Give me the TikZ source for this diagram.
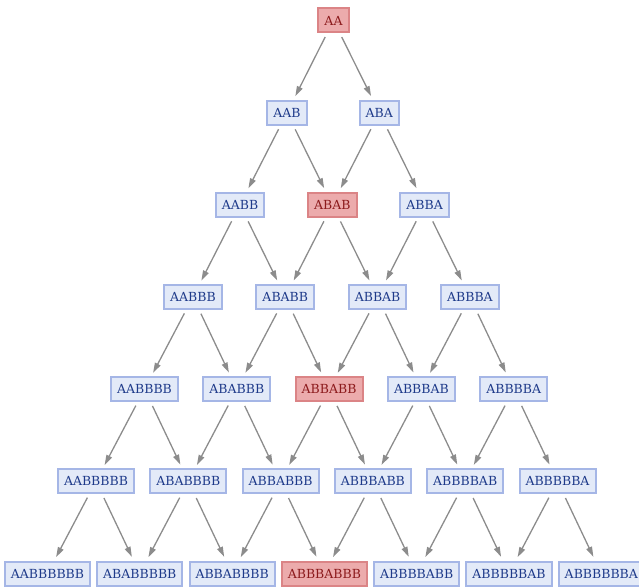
\documentclass[tikz,border=0pt]{standalone}
\usepackage{fontspec}
\setmainfont{DejaVu Serif}
\usetikzlibrary{arrows.meta}
\definecolor{bluefill}{HTML}{E3EAF8}
\definecolor{blueline}{HTML}{A5B6E6}
\definecolor{bluetext}{HTML}{1E3A8A}
\definecolor{redfill}{HTML}{ECABAC}
\definecolor{redline}{HTML}{DB8486}
\definecolor{redtext}{HTML}{8C1A1C}
\definecolor{edgegray}{HTML}{8C8C8C}
\tikzset{
  word/.style={draw=blueline, fill=bluefill, text=bluetext, line width=2pt,
    minimum height=24pt, inner xsep=6pt, inner ysep=0pt,
    font=\fontsize{12.5}{14}\selectfont},
  hot/.style={word, draw=redline, fill=redfill, text=redtext},
  link/.style={draw=edgegray, line width=1.3pt, shorten <=18.5pt, shorten >=18.5pt,
    -{Triangle[length=10pt,width=6pt]}}
}
\begin{document}
\begin{tikzpicture}[x=1pt,y=-1pt]
\useasboundingbox (0,0) rectangle (639,586);
\def\dx{92.3}
% row 0
\node[hot]  (n-0-0) at (333.5,20.5) {AA};
% row 1
\node[word] (n-1-0) at (287+0*\dx,112.7) {AAB};
\node[word] (n-1-1) at (287+1*\dx,112.7) {ABA};
% row 2
\node[word] (n-2-0) at (240+0*\dx,204.8) {AABB};
\node[hot]  (n-2-1) at (240+1*\dx,204.8) {ABAB};
\node[word] (n-2-2) at (240+2*\dx,204.8) {ABBA};
% row 3
\node[word] (n-3-0) at (193+0*\dx,297) {AABBB};
\node[word] (n-3-1) at (193+1*\dx,297) {ABABB};
\node[word] (n-3-2) at (193+2*\dx,297) {ABBAB};
\node[word] (n-3-3) at (193+3*\dx,297) {ABBBA};
% row 4
\node[word] (n-4-0) at (144.5+0*\dx,389.2) {AABBBB};
\node[word] (n-4-1) at (144.5+1*\dx,389.2) {ABABBB};
\node[hot]  (n-4-2) at (144.5+2*\dx,389.2) {ABBABB};
\node[word] (n-4-3) at (144.5+3*\dx,389.2) {ABBBAB};
\node[word] (n-4-4) at (144.5+4*\dx,389.2) {ABBBBA};
% row 5
\node[word] (n-5-0) at (96+0*\dx,481.3) {AABBBBB};
\node[word] (n-5-1) at (96+1*\dx,481.3) {ABABBBB};
\node[word] (n-5-2) at (96+2*\dx,481.3) {ABBABBB};
\node[word] (n-5-3) at (96+3*\dx,481.3) {ABBBABB};
\node[word] (n-5-4) at (96+4*\dx,481.3) {ABBBBAB};
\node[word] (n-5-5) at (96+5*\dx,481.3) {ABBBBBA};
% row 6
\node[word] (n-6-0) at (47.5+0*\dx,573.5) {AABBBBBB};
\node[word] (n-6-1) at (47.5+1*\dx,573.5) {ABABBBBB};
\node[word] (n-6-2) at (47.5+2*\dx,573.5) {ABBABBBB};
\node[hot]  (n-6-3) at (47.5+3*\dx,573.5) {ABBBABBB};
\node[word] (n-6-4) at (47.5+4*\dx,573.5) {ABBBBABB};
\node[word] (n-6-5) at (47.5+5*\dx,573.5) {ABBBBBAB};
\node[word] (n-6-6) at (47.5+6*\dx,573.5) {ABBBBBBA};
% each word rewrites to two words in the next row
\foreach \r in {0,...,5}{
  \pgfmathtruncatemacro{\s}{\r+1}
  \foreach \i in {0,...,\r}{
    \pgfmathtruncatemacro{\j}{\i+1}
    \draw[link] (n-\r-\i.center) -- (n-\s-\i.center);
    \draw[link] (n-\r-\i.center) -- (n-\s-\j.center);
  }
}
\end{tikzpicture}
\end{document}
